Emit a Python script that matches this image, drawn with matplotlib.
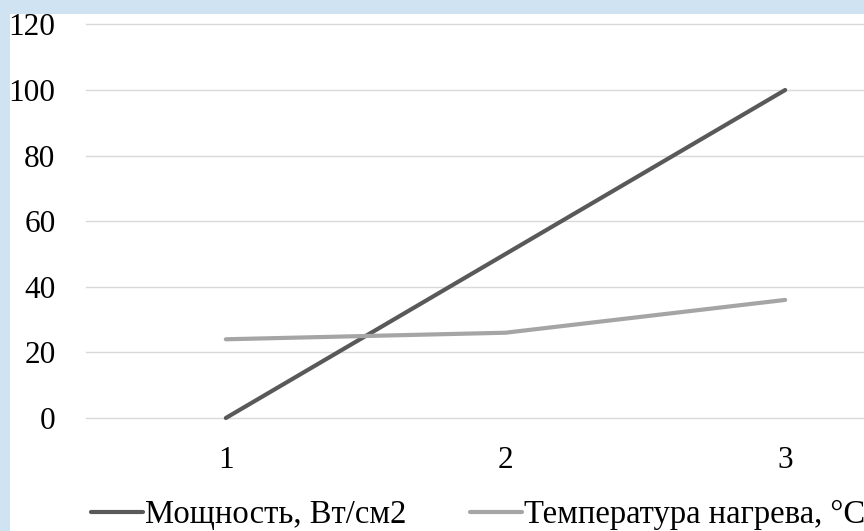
import matplotlib
matplotlib.use('Agg')
import matplotlib.pyplot as plt
from matplotlib.patches import Rectangle

# данные с графика
categories = ['1', '2', '3']
power = [0, 50, 100]          # Мощность, Вт/см2
temperature = [24, 26, 36]    # Температура нагрева, °C
yticks = [0, 20, 40, 60, 80, 100, 120]

plt.rcParams['font.family'] = ['Liberation Serif', 'DejaVu Serif']

fig = plt.figure(figsize=(8.64, 5.31), dpi=100)
fig.patch.set_facecolor('#cfe3f2')
# white chart area (slide background shows at top and left)
fig.patches.append(Rectangle((10/864, 0), 1, 1 - 14/531, transform=fig.transFigure,
                             facecolor='white', edgecolor='none', zorder=-1))

ax = fig.add_axes([86/864, 113/531, 839/864, 393.6/531])
ax.set_facecolor('none')
ax.set_zorder(2)

x = range(1, len(categories) + 1)
ax.plot(x, power, color='#595959', lw=3, solid_capstyle='round', label='Мощность, Вт/см2',
        zorder=3, clip_on=False)
ax.plot(x, temperature, color='#a5a5a5', lw=3, solid_capstyle='round', label='Температура нагрева, °C',
        zorder=3, clip_on=False)

ax.set_xlim(0.5, 3.5)
ax.set_ylim(0, 120)
ax.set_xticks(list(x))
ax.set_xticklabels(categories)
ax.set_yticks(yticks)
ax.grid(axis='y', color='#d9d9d9', lw=1)
for gl in ax.get_ygridlines():
    gl.set_clip_on(False)
ax.set_axisbelow(True)
for s in ax.spines.values():
    s.set_visible(False)
ax.tick_params(axis='both', length=0, labelsize=22.5, colors='black')
ax.tick_params(axis='y', pad=22)
ax.tick_params(axis='x', pad=20)

leg = fig.legend(loc='center', bbox_to_anchor=(478/864, 1 - 515/531), ncol=2, frameon=False,
                 fontsize=23.5, handlelength=1.6, handletextpad=0.05, columnspacing=1.95,
                 borderpad=0, borderaxespad=0)
leg.set_zorder(3)

fig.savefig('out.png', dpi=100, facecolor=fig.get_facecolor())
